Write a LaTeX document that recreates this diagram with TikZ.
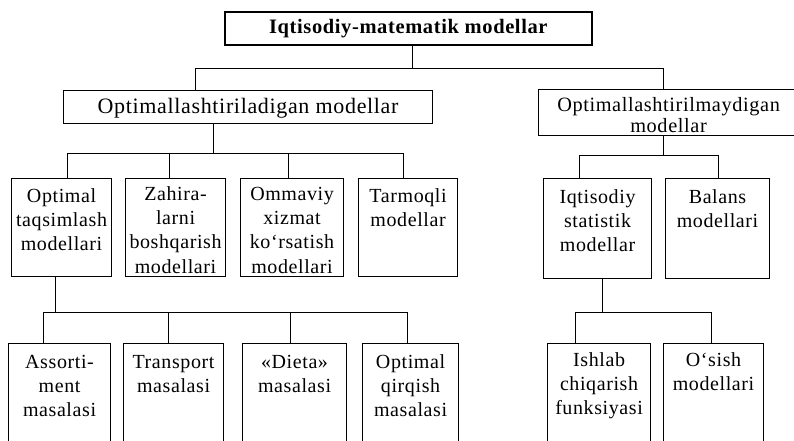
\documentclass[tikz,border=0pt]{standalone}
\usepackage{fontspec}
\setmainfont[LetterSpace=3]{Liberation Serif}
\newcommand\firstgap[1]{\rule{0pt}{#1}}
\tikzset{
  box/.style={draw, line width=1.1pt, inner sep=0, anchor=north west},
  link/.style={draw, line width=0.9pt},
  lbl/.style={anchor=north, inner sep=0, align=center,
    font=\fontsize{20}{24.3}\selectfont},
}
\begin{document}
\begin{tikzpicture}[x=1pt, y=-1pt]
\useasboundingbox (0,0) rectangle (794,441);
\clip (0,0) rectangle (794,441);

% root
\node[box, line width=1.7pt, minimum width=367pt, minimum height=33pt] (T) at (224,11) {};
\node[lbl, font=\bfseries\fontsize{20.5}{24}\selectfont] (Tt) at (T.north)
  {\firstgap{22pt}Iqtisodiy-matematik modellar};

% second level
\node[box, minimum width=369pt, minimum height=33pt] (L) at (63,90) {};
\node[lbl, font=\fontsize{22}{24}\selectfont] (Lt) at (L.north)
  {\firstgap{23pt}Optimallashtiriladigan modellar};
\node[box, minimum width=260pt, minimum height=46pt] (R) at (538,89) {};
\node[lbl, font=\fontsize{20.3}{21}\selectfont] (Rt) at (R.north)
  {\firstgap{22pt}Optimallashtirilmaydigan\\modellar};

% third level, left branch
\node[box, minimum width=100pt, minimum height=98pt] (A1) at (11,178) {};
\node[lbl] (A1t) at (A1.north) {\firstgap{24pt}Optimal\\taqsimlash\\modellari};
\node[box, minimum width=100pt, minimum height=98pt] (A2) at (125,178) {};
\node[lbl] (A2t) at (A2.north) {\firstgap{22pt}Zahira-\\larni\\boshqarish\\modellari};
\node[box, minimum width=103pt, minimum height=98pt] (A3) at (240,178) {};
\node[lbl] (A3t) at (A3.north) {\firstgap{22pt}Ommaviy\\xizmat\\ko‘rsatish\\modellari};
\node[box, minimum width=99pt, minimum height=98pt] (A4) at (358,178) {};
\node[lbl] (A4t) at (A4.north) {\firstgap{24pt}Tarmoqli\\modellar};

% third level, right branch
\node[box, minimum width=108pt, minimum height=100pt] (B1) at (543,178) {};
\node[lbl] (B1t) at (B1.north) {\firstgap{25pt}Iqtisodiy\\statistik\\modellar};
\node[box, minimum width=104pt, minimum height=100pt] (B2) at (665,178) {};
\node[lbl] (B2t) at (B2.north) {\firstgap{25pt}Balans\\modellari};

% fourth level, left branch
\node[box, minimum width=102pt, minimum height=120pt] (C1) at (8,343) {};
\node[lbl] (C1t) at (C1.north) {\firstgap{25pt}Assorti-\\ment\\masalasi};
\node[box, minimum width=100pt, minimum height=120pt] (C2) at (123,343) {};
\node[lbl] (C2t) at (C2.north) {\firstgap{25pt}Transport\\masalasi};
\node[box, minimum width=104pt, minimum height=120pt] (C3) at (242,343) {};
\node[lbl] (C3t) at (C3.north) {\firstgap{25pt}«Dieta»\\masalasi};
\node[box, minimum width=96pt, minimum height=120pt] (C4) at (362,343) {};
\node[lbl] (C4t) at (C4.north) {\firstgap{25pt}Optimal\\qirqish\\masalasi};

% fourth level, right branch
\node[box, minimum width=103pt, minimum height=120pt] (D1) at (547,343) {};
\node[lbl] (D1t) at (D1.north) {\firstgap{23pt}Ishlab\\chiqarish\\funksiyasi};
\node[box, minimum width=100pt, minimum height=120pt] (D2) at (663,343) {};
\node[lbl] (D2t) at (D2.north) {\firstgap{23pt}O‘sish\\modellari};

% bus levels
\coordinate (busT) at (0,68);
\coordinate (busA) at (0,153);
\coordinate (busB) at (0,155);
\coordinate (busC) at (0,312);
\coordinate (busD) at (0,312);

% attachment points
\coordinate (tOut) at ([xshift=4.5pt]T.south);
\coordinate (lIn)  at ([xshift=-52.5pt]L.north);
\coordinate (rIn)  at ([xshift=-5pt]R.north);
\coordinate (lOut) at ([xshift=-34.5pt]L.south);
\coordinate (rOut) at ([xshift=-5pt]R.south);
\coordinate (a1In) at ([xshift=6pt]A1.north);
\coordinate (a2In) at ([xshift=-6pt]A2.north);
\coordinate (a3In) at ([xshift=-3.5pt]A3.north);
\coordinate (a4In) at ([xshift=-4.5pt]A4.north);
\coordinate (a1Out) at ([xshift=-6pt]A1.south);
\coordinate (b1In) at ([xshift=-18pt]B1.north);
\coordinate (b2In) at ([xshift=1pt]B2.north);
\coordinate (b1Out) at ([xshift=5pt]B1.south);
\coordinate (c1In) at ([xshift=-16pt]C1.north);
\coordinate (c2In) at ([xshift=-5pt]C2.north);
\coordinate (c3In) at ([xshift=-4pt]C3.north);
\coordinate (c4In) at ([xshift=-3pt]C4.north);
\coordinate (d1In) at ([xshift=-23.5pt]D1.north);
\coordinate (d2In) at ([xshift=-2pt]D2.north);

% root to second level
\draw[link] (tOut) -- (tOut |- busT);
\draw[link] (lIn) |- (rIn |- busT) -- (rIn);

% left branch to third level
\draw[link] (lOut) -- (lOut |- busA);
\draw[link] (a1In) |- (a4In |- busA) -- (a4In);
\draw[link] (a2In) -- (a2In |- busA);
\draw[link] (a3In) -- (a3In |- busA);

% right branch to third level
\draw[link] (rOut) -- (rOut |- busB);
\draw[link] (b1In) |- (b2In |- busB) -- (b2In);

% optimal allocation models to fourth level
\draw[link] (a1Out) -- (a1Out |- busC);
\draw[link] (c1In) |- (c4In |- busC) -- (c4In);
\draw[link] (c2In) -- (c2In |- busC);
\draw[link] (c3In) -- (c3In |- busC);

% statistical models to fourth level
\draw[link] (b1Out) -- (b1Out |- busD);
\draw[link] (d1In) |- (d2In |- busD) -- (d2In);
\end{tikzpicture}
\end{document}
